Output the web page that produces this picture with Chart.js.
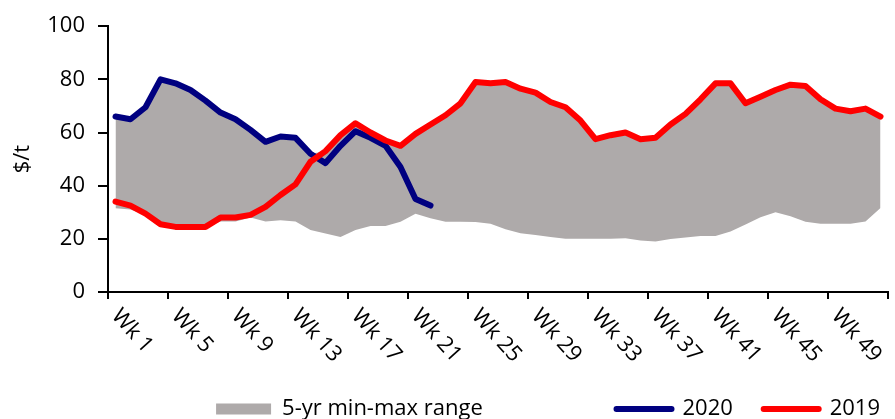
<!DOCTYPE html>
<html>
<head>
<meta charset="utf-8">
<script src="https://cdn.jsdelivr.net/npm/chart.js@4"></script>
<style>
  html, body { margin: 0; padding: 0; background: #fff; overflow: hidden; }
  #wrap { width: 895px; height: 430px; }
</style>
</head>
<body>
<div id="wrap"><canvas id="myChart"></canvas></div>
<script>
const weeks = ["Wk 1","Wk 2","Wk 3","Wk 4","Wk 5","Wk 6","Wk 7","Wk 8","Wk 9","Wk 10",
  "Wk 11","Wk 12","Wk 13","Wk 14","Wk 15","Wk 16","Wk 17","Wk 18","Wk 19","Wk 20",
  "Wk 21","Wk 22","Wk 23","Wk 24","Wk 25","Wk 26","Wk 27","Wk 28","Wk 29","Wk 30",
  "Wk 31","Wk 32","Wk 33","Wk 34","Wk 35","Wk 36","Wk 37","Wk 38","Wk 39","Wk 40",
  "Wk 41","Wk 42","Wk 43","Wk 44","Wk 45","Wk 46","Wk 47","Wk 48","Wk 49","Wk 50",
  "Wk 51","Wk 52"];

const rangeMax = [66, 65, 69.5, 80, 78.5, 76, 72, 67.5, 65, 61, 56.5, 58.5, 58, 52, 53, 59, 63.5, 60, 57, 55,
  59.5, 63, 66.5, 71, 79, 78.5, 79, 76.5, 75, 71.5, 69.5, 64.5, 57.5, 59, 60, 57.5, 58, 63, 67, 72.5,
  78.5, 78.5, 71, 73.5, 76, 78, 77.5, 72.5, 69, 68, 69, 66];
const rangeMin = [31.5, 31, 29, 25.5, 24.5, 24.5, 24.5, 26.5, 26.5, 28, 26.5, 27, 26.5, 23.3, 22, 20.7, 23.3, 24.8, 24.8, 26.4,
  29.4, 27.7, 26.4, 26.4, 26.3, 25.7, 23.6, 22.1, 21.4, 20.7, 20, 20, 20, 20, 20.2, 19.4, 19, 19.9, 20.5, 21.1,
  21.1, 22.8, 25.4, 28.1, 30, 28.5, 26.4, 25.7, 25.7, 25.7, 26.5, 31.6];
const y2020 = [66, 65, 69.5, 80, 78.5, 76, 72, 67.5, 65, 61, 56.5, 58.5, 58, 52, 48.5, 55, 60.5, 58, 55, 47,
  35, 32.5];
const y2019 = [34, 32.5, 29.5, 25.5, 24.5, 24.5, 24.5, 28, 28, 29, 32, 36.5, 40.5, 49, 53, 59, 63.5, 60, 57, 55,
  59.5, 63, 66.5, 71, 79, 78.5, 79, 76.5, 75, 71.5, 69.5, 64.5, 57.5, 59, 60, 57.5, 58, 63, 67, 72.5,
  78.5, 78.5, 71, 73.5, 76, 78, 77.5, 72.5, 69, 68, 69, 66];
const yTicks = [0, 20, 40, 60, 80, 100];

Chart.defaults.font.family = "'Open Sans', sans-serif";
Chart.defaults.color = "#000";

// x labels run down to the right, which Chart.js can't do itself
const slantedLabels = {
  id: "slantedLabels",
  afterDraw(chart) {
    const ctx = chart.ctx;
    const x = chart.scales.x;
    ctx.save();
    ctx.font = "22px 'Open Sans'";
    ctx.fillStyle = "#000";
    ctx.textAlign = "left";
    ctx.textBaseline = "top";
    weeks.forEach((w, i) => {
      if (i % 4 !== 0) return;
      ctx.save();
      ctx.translate(x.getPixelForValue(i) + 8, x.top + 13);
      ctx.rotate(48 * Math.PI / 180);
      ctx.fillText(w, 0, 0);
      ctx.restore();
    });
    ctx.restore();
  }
};

const pad = " ".repeat(22);

new Chart(document.getElementById("myChart"), {
  type: "line",
  data: {
    labels: weeks,
    datasets: [
      {
        label: "5-yr min-max range" + pad,
        data: rangeMax,
        borderWidth: 0,
        backgroundColor: "#AEAAAA",
        pointBackgroundColor: "#AEAAAA",
        pointBorderWidth: 0,
        pointStyle: "rect",
        pointRadius: 0,
        fill: "+1",
        order: 3
      },
      {
        label: "min",
        data: rangeMin,
        borderWidth: 0,
        pointRadius: 0,
        fill: false,
        order: 4
      },
      {
        label: "2020    ",
        data: y2020,
        borderColor: "#000080",
        borderWidth: 6,
        pointBorderWidth: 6,
        pointStyle: "line",
        pointRadius: 0,
        borderJoinStyle: "round",
        borderCapStyle: "round",
        fill: false,
        order: 2
      },
      {
        label: "2019",
        data: y2019,
        borderColor: "#FF0000",
        borderWidth: 6,
        pointBorderWidth: 6,
        pointStyle: "line",
        pointRadius: 0,
        borderJoinStyle: "round",
        borderCapStyle: "round",
        fill: false,
        order: 1
      }
    ]
  },
  options: {
    responsive: true,
    maintainAspectRatio: false,
    animation: false,
    layout: { padding: { top: 22, right: 7, left: 0, bottom: 0 } },
    plugins: {
      tooltip: { enabled: false },
      legend: {
        position: "bottom",
        align: "end",
        labels: {
          usePointStyle: true,
          pointStyleWidth: 55,
          boxHeight: 11,
          padding: 8,
          font: { size: 22 },
          sort: (a, b) => a.datasetIndex - b.datasetIndex,
          filter: (item) => item.datasetIndex !== 1,
          generateLabels(chart) {
            const items = Chart.defaults.plugins.legend.labels.generateLabels(chart);
            items.forEach((it) => { it.lineCap = "round"; });
            return items;
          }
        }
      }
    },
    scales: {
      x: {
        offset: true,
        afterFit: (s) => { s.height = 98; },
        border: { color: "#000", width: 2 },
        grid: {
          offset: true,
          drawOnChartArea: false,
          drawTicks: true,
          tickLength: 7,
          color: (c) => (c.index === undefined || c.index % 4 === 0) ? "#000" : "rgba(0,0,0,0)",
          lineWidth: 2
        },
        ticks: { display: false }
      },
      y: {
        min: 0,
        max: 100,
        afterFit: (s) => { s.width = 108; },
        afterBuildTicks: (s) => { s.ticks = yTicks.map((v) => ({ value: v })); },
        border: { color: "#000", width: 2 },
        grid: { drawOnChartArea: false, tickLength: 10, color: "#000", lineWidth: 2 },
        ticks: { padding: 13, font: { size: 22 } },
        title: { display: true, text: "$/t", font: { size: 22 }, padding: 10 }
      }
    }
  },
  plugins: [slantedLabels]
});
</script>
</body>
</html>
